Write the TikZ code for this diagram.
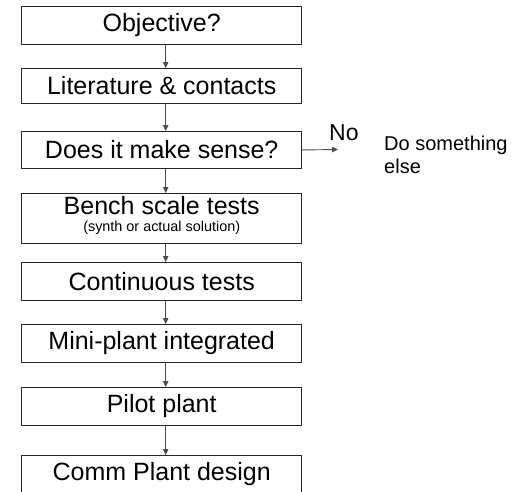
\documentclass[tikz,border=0pt]{standalone}
\usepackage{fontspec}
\setmainfont{Liberation Sans}
\usetikzlibrary{arrows.meta}
\begin{document}
\begin{tikzpicture}[x=1pt,y=1pt,
  stage/.style={draw=black!85, line width=0.9pt, minimum width=280pt, inner sep=0pt,
    anchor=north, font=\fontsize{25}{28}\selectfont, align=center},
  flow/.style={-{Triangle[width=5.5pt,length=6pt]}, line width=0.9pt, draw=black!70},
  lbl/.style={inner sep=0pt, text=black}]
\useasboundingbox (0,0) rectangle (524,-491);
\clip (0,0) rectangle (524,-491);
\node[stage, minimum height=38pt] (b1) at (161.7,-6) {Objective?};
\node[stage, minimum height=35pt] (b2) at (161.7,-68) {Literature \& contacts};
\node[stage, minimum height=37pt] (b3) at (161.7,-131) {Does it make sense?};
\node[stage, minimum height=50pt] (b4) at (161.7,-193) {Bench scale tests\\[-10.6pt]{\fontsize{14.4}{17}\selectfont (synth or actual solution)\rule[-9pt]{0pt}{1pt}}};
\node[stage, minimum height=38pt] (b5) at (161.7,-262) {Continuous tests};
\node[stage, minimum height=38pt] (b6) at (161.7,-324) {Mini-plant integrated};
\node[stage, minimum height=38pt] (b7) at (161.7,-387) {Pilot plant};
\node[stage, minimum height=38pt] (b8) at (161.7,-455) {Comm Plant design};
\draw[flow] ([xshift=4pt]b1.south) -- ([xshift=4pt]b2.north);
\draw[flow] ([xshift=4pt]b2.south) -- ([xshift=4pt]b3.north);
\draw[flow] ([xshift=4pt]b3.south) -- ([xshift=4pt]b4.north);
\draw[flow] ([xshift=4pt]b4.south) -- ([xshift=4pt]b5.north);
\draw[flow] ([xshift=4pt]b5.south) -- ([xshift=4pt]b6.north);
\draw[flow] ([xshift=4pt]b6.south) -- ([xshift=4pt]b7.north);
\draw[flow] ([xshift=4pt]b7.south) -- ([xshift=4pt]b8.north);
\coordinate (noend) at (338,-149.5);
\draw[flow] (b3.east) -- (noend);
\node[lbl, anchor=base west, font=\fontsize{23}{26}\selectfont] (no) at (329,-140) {No};
\node[lbl, anchor=north west, align=left, font=\fontsize{20}{23}\selectfont] (else) at (384,-135.5) {Do something\\else};
\end{tikzpicture}
\end{document}
